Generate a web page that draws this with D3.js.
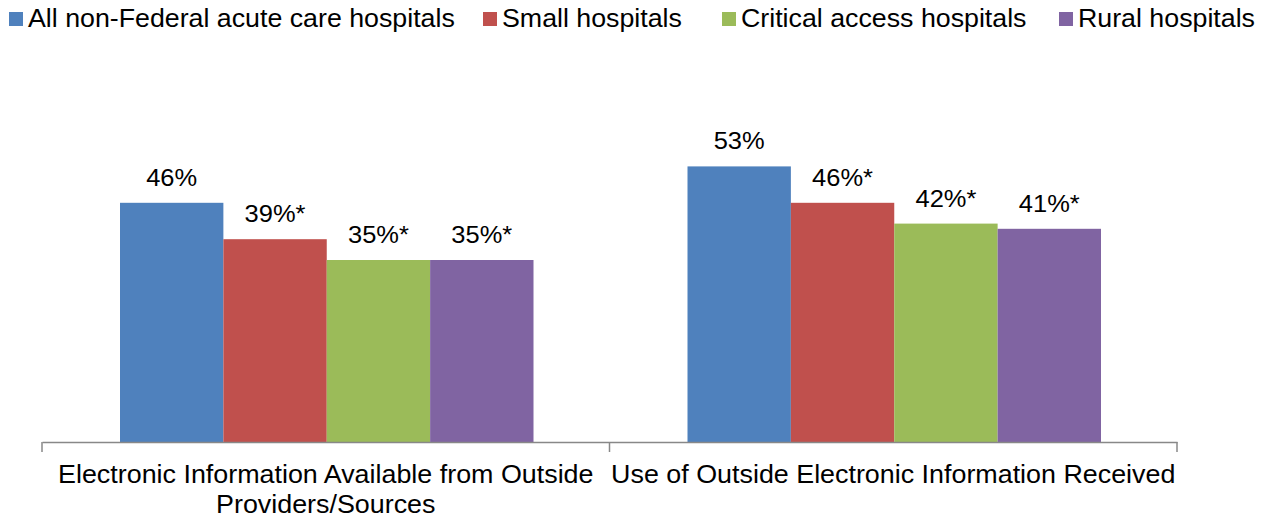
<html>
  <script src="https://d3js.org/d3.v7.min.js"></script>
  <style>
    body, html { margin: 0; padding: 0; background: white; }
    text { font-family: "Liberation Sans", Arial, sans-serif; fill: #000; }
  </style>
  <body>
    <svg id="chart" width="1272" height="521"></svg>
    <script>
      const categories = [
        ["Electronic Information Available from Outside", "Providers/Sources"],
        ["Use of Outside Electronic Information Received"],
      ];
      const seriesNames = [
        "All non-Federal acute care hospitals",
        "Small hospitals",
        "Critical access hospitals",
        "Rural hospitals",
      ];
      const seriesColors = ["#4F81BD", "#C0504D", "#9BBB59", "#8064A2"];
      // values per category, in series order
      const availableValues = [46, 39, 35, 35];
      const useValues = [53, 46, 42, 41];
      const labels = [
        ["46%", "39%*", "35%*", "35%*"],
        ["53%", "46%*", "42%*", "41%*"],
      ];
      const allValues = [availableValues, useValues];

      const svg = d3.select("#chart");
      const left = 42, right = 1177, baseline = 442;

      const x0 = d3.scaleBand().domain([0, 1]).range([left, right]);
      const x1 = d3.scaleBand().domain(d3.range(4)).range([78, x0.bandwidth() - 76]);
      const y = d3.scaleLinear().domain([0, 60]).range([baseline, baseline - 312]);

      // text drawn a bit wider than the font, like the original
      const stretched = (sel, x, yy, sx) =>
        sel.attr("transform", `translate(${x},${yy}) scale(${sx},1)`);

      const groups = svg.selectAll("g.grp")
        .data(allValues)
        .enter()
        .append("g")
        .attr("class", "grp")
        .attr("transform", (d, i) => `translate(${x0(i)},0)`);

      groups.selectAll("rect")
        .data((d) => d)
        .enter()
        .append("rect")
        .attr("x", (d, i) => x1(i))
        .attr("y", (d) => y(d))
        .attr("width", x1.bandwidth())
        .attr("height", (d) => baseline - y(d))
        .attr("fill", (d, i) => seriesColors[i]);

      groups.selectAll("text.val")
        .data((d, gi) => d.map((v, i) => ({ v, i, label: labels[gi][i] })))
        .enter()
        .append("text")
        .attr("class", "val")
        .attr("text-anchor", "middle")
        .style("font-size", "23.5px")
        .text((d) => d.label)
        .each(function (d) {
          stretched(d3.select(this), x1(d.i) + x1.bandwidth() / 2, y(d.v) - 17, 1.085);
        });

      // axis
      const axis = svg.append("g").attr("transform", `translate(0,${baseline})`)
        .call(d3.axisBottom(x0).tickValues([]).tickSizeOuter(0));
      axis.select(".domain").attr("stroke", "#888").attr("stroke-width", 1.5);
      const boundaries = [left, x0(1), right];
      axis.selectAll("line.b")
        .data(boundaries)
        .enter()
        .append("line")
        .attr("x1", (d) => d)
        .attr("x2", (d) => d)
        .attr("y1", 0)
        .attr("y2", 10)
        .attr("stroke", "#888")
        .attr("stroke-width", 1.5);

      // category labels
      categories.forEach((lines, i) => {
        lines.forEach((line, j) => {
          svg.append("text")
            .attr("class", "cat")
            .attr("text-anchor", "middle")
            .style("font-size", "25px")
            .text(line)
            .call(stretched, x0(i) + x0.bandwidth() / 2, 483 + j * 30, 1.075);
        });
      });

      // legend, item starts as laid out in the original
      const legendX = [9, 483, 722, 1059];
      const legend = svg.append("g");
      seriesNames.forEach((name, i) => {
        const item = legend.append("g").attr("transform", `translate(${legendX[i]},0)`);
        item.append("rect")
          .attr("x", 0).attr("y", 12)
          .attr("width", 14).attr("height", 14)
          .attr("fill", seriesColors[i]);
        item.append("text")
          .style("font-size", "25.5px")
          .text(name)
          .call(stretched, 19, 27, 1.05);
      });
    </script>
  </body>
</html>
